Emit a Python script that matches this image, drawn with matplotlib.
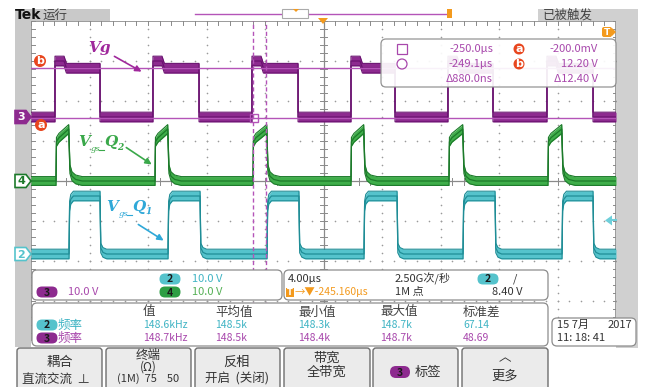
import numpy as np
import matplotlib
matplotlib.use("Agg")
import matplotlib.pyplot as plt
from matplotlib.patches import FancyBboxPatch, Polygon, Rectangle, Circle, FancyArrowPatch

plt.rcParams['font.family'] = ['Noto Sans CJK SC', 'DejaVu Sans']

W, H = 654, 387

# ---- acquisition settings ----
time_per_div = 4.0      # µs/div
volts_per_div = 10.0    # V/div, all channels
t_left, t_right = -20.0, 20.0

# ---- channel 3 : Vg ----
ch3_rise = [-18.36, -11.66, -4.89, 1.88, 8.51, 15.28]
ch3_fall = [-15.28, -8.51, -1.74, 4.89, 11.59, 18.43]
ch3_low = 0.0
ch3_high = 12.2
ch3_overshoot = 14.0
ch3_offset = 1.6        # div

# ---- channel 4 : Vgs_Q2 ----
ch4_rise = [-18.29, -11.52, -4.82, 1.88, 8.58, 15.35]
ch4_fall = [-17.40, -10.63, -3.86, 2.77, 9.54, 16.31]
ch4_low = 0.0
ch4_on = 9.8
ch4_peak = 13.0
ch4_offset = 0.0

# ---- channel 2 : Vgs_Q1 ----
ch2_rise = [-17.40, -10.63, -3.86, 2.77, 9.54, 16.31]
ch2_fall = [-15.28, -8.44, -1.68, 5.03, 11.73, 18.43]
ch2_low = 0.0
ch2_high = 14.5
ch2_offset = -1.825

# ---- cursors / trigger ----
cursor_t = [-4.82, -3.94]
cursor_v = [-0.2, 12.2]
trigger_level = 8.4

# ---- readouts ----
readout_rows = [("-250.0µs", "a", "-200.0mV"),
                ("-249.1µs", "b", "12.20 V"),
                ("Δ880.0ns", None, "Δ12.40 V")]
meas_headers = ["值", "平均值", "最小值", "最大值", "标准差"]
meas_ch2 = ["148.6kHz", "148.5k", "148.3k", "148.7k", "67.14"]
meas_ch3 = ["148.7kHz", "148.5k", "148.4k", "148.7k", "48.69"]

PURPLE = '#8d2a8f'
PURPLE_D = '#6a1270'
PURPLE_T = '#a848ac'
GREEN = '#3fae4a'
GREEN_D = '#1c7a2a'
GREEN_T = '#55b055'
CYAN = '#55c3cc'
CYAN_D = '#1f8d96'
CYAN_T = '#40b4c4'
ORANGE = '#f39a1e'
RED = '#e8461e'
GREY = '#c9c9c9'


def vg_wave(rise, fall, low, high, peak):
    t, v = [t_left], [low]
    for r, f in zip(rise, fall):
        t += [r, r, r + 0.62, r + 0.78, f, f]
        v += [low, peak, peak, high, high, low]
    t.append(t_right); v.append(low)
    return np.array(t), np.array(v)


def q2_wave(rise, fall, low, on, peak):
    t, v = [t_left], [low]
    for r, f in zip(rise, fall):
        t += [r, r + 0.03, r + 0.2, f - 0.02, f + 0.06, f + 0.2, f + 0.45, f + 0.9]
        v += [low, on, on + 1.0, peak, 3.0, 1.2, 0.4, low]
    t.append(t_right); v.append(low)
    return np.array(t), np.array(v)


def q1_wave(rise, fall, low, high):
    t, v = [t_left], [low]
    for r, f in zip(rise, fall):
        t += [r, r + 0.04, r + 0.12, r + 0.3, f, f + 0.05, f + 0.2, f + 0.45]
        v += [low, high - 2.5, high - 0.8, high, high, 1.5, 0.4, low]
    t.append(t_right); v.append(low)
    return np.array(t), np.array(v)


fig = plt.figure(figsize=(W / 100, H / 100), dpi=100)
fig.patch.set_facecolor('white')

# ---------- background frame (pixel coordinates) ----------
bg = fig.add_axes([0, 0, 1, 1], zorder=0)
bg.set_xlim(0, W); bg.set_ylim(H, 0); bg.axis('off')
bg.add_patch(Rectangle((15, 9), 95, 12, fc=GREY, ec='none'))
bg.add_patch(Rectangle((15, 9), 16, 338, fc=GREY, ec='none'))
bg.add_patch(Rectangle((538, 9), 100, 12, fc='#d0d0d0', ec='none'))
bg.add_patch(Rectangle((616, 9), 22, 339, fc='#d0d0d0', ec='none'))

# ---------- scope graticule ----------
gl, gt, gr, gb = 31, 21, 616, 341
ax = fig.add_axes([gl / W, 1 - gb / H, (gr - gl) / W, (gb - gt) / H], zorder=1)
ax.set_xlim(t_left, t_right); ax.set_ylim(-4, 4)
ax.axis('off')
ax.patch.set_alpha(0)

dot_c = '#9a9a9a'
ys = np.arange(-4, 4.001, 0.2)
xs = np.arange(t_left, t_right + 0.001, time_per_div / 5)
for k in range(1, 10):
    x = t_left + time_per_div * k
    if k != 5:
        ax.scatter(np.full_like(ys, x), ys, s=1.4, color=dot_c, lw=0, zorder=1)
for j in range(-3, 4):
    if j != 0:
        ax.scatter(xs, np.full_like(xs, j), s=1.4, color=dot_c, lw=0, zorder=1)

axis_c = '#8a8a8a'
ax.axvline(0, color=axis_c, lw=0.9, zorder=1)
ax.axhline(0, color=axis_c, lw=0.9, zorder=1)
ax.plot([t_left, t_left], [-4, 4], color=axis_c, lw=1.2, zorder=1)
ax.plot([t_right, t_right], [-4, 4], color=axis_c, lw=1.2, zorder=1)
ax.plot([t_left, t_right], [4, 4], color=axis_c, lw=1.2, zorder=1)
tick_dx = 4 / 58.5 * 3.5
tick_dy = 3.5 / 40
for y in ys:
    ax.plot([-tick_dx, tick_dx], [y, y], color=axis_c, lw=0.7, zorder=1)
    ax.plot([t_left, t_left + tick_dx], [y, y], color=axis_c, lw=0.7, zorder=1)
    ax.plot([t_right - tick_dx, t_right], [y, y], color=axis_c, lw=0.7, zorder=1)
for x in xs:
    ax.plot([x, x], [-tick_dy, tick_dy], color=axis_c, lw=0.7, zorder=1)
    ax.plot([x, x], [4 - tick_dy, 4], color=axis_c, lw=0.7, zorder=1)


def draw_trace(t, v, offset, half, fill, edge, z):
    y = offset + v / volts_per_div
    ax.fill_between(t, y - half, y + half, color=fill, lw=0, zorder=z)
    ax.plot(t, y + half, color=edge, lw=0.8, zorder=z)
    ax.plot(t, y - half, color=edge, lw=0.8, zorder=z)
    ax.plot(t, y, color=edge, lw=0.9, zorder=z)


t3, v3 = vg_wave(ch3_rise, ch3_fall, ch3_low, ch3_high, ch3_overshoot)
t4, v4 = q2_wave(ch4_rise, ch4_fall, ch4_low, ch4_on, ch4_peak)
t2, v2 = q1_wave(ch2_rise, ch2_fall, ch2_low, ch2_high)
draw_trace(t2, v2, ch2_offset, 0.12, CYAN, CYAN_D, 3)
draw_trace(t4, v4, ch4_offset, 0.11, GREEN, GREEN_D, 3)
draw_trace(t3, v3, ch3_offset, 0.12, PURPLE, PURPLE_D, 3)

# cursors
cur_c = '#b454b8'
for tc in cursor_t:
    ax.axvline(tc, color=cur_c, lw=1.0, ls=(0, (3, 2)), zorder=4)
for vc in cursor_v:
    ax.axhline(ch3_offset + vc / volts_per_div, color=cur_c, lw=1.0, zorder=4)
ax.plot([cursor_t[0] + 0.1], [ch3_offset + cursor_v[0] / volts_per_div], marker='s',
        ms=6, mfc='none', mec=cur_c, mew=1.0, zorder=5)

# ---------- foreground (pixel coordinates) ----------
fg = fig.add_axes([0, 0, 1, 1], zorder=3)
fg.set_xlim(0, W); fg.set_ylim(H, 0); fg.axis('off')
fg.patch.set_alpha(0)


def rbox(x0, y0, x1, y1, r=5, fc='white', ec='#8c8c8c', lw=0.9, alpha=1.0, z=2):
    fg.add_patch(FancyBboxPatch((x0, y0), x1 - x0, y1 - y0,
                                boxstyle=f"round,pad=0,rounding_size={r}",
                                fc=fc, ec=ec, lw=lw, alpha=alpha, zorder=z))


def pill(cx, cy, label, fc, w=21, h=11, tc='#1a1a1a'):
    fg.add_patch(FancyBboxPatch((cx - w / 2, cy - h / 2), w, h,
                                boxstyle=f"round,pad=0,rounding_size={h / 2}",
                                fc=fc, ec='none', zorder=4))
    fg.text(cx, cy + 0.5, label, ha='center', va='center', fontsize=7.5,
            fontweight='bold', color=tc, zorder=5)


def badge(cx, cy, label, r=6):
    fg.add_patch(Circle((cx, cy), r, fc=RED, ec='none', zorder=4))
    fg.text(cx, cy + 0.3, label, ha='center', va='center', fontsize=8,
            color='white', fontweight='bold', zorder=5, family='DejaVu Sans')


def txt(x, y, s, c='#333333', size=8, ha='left', **kw):
    fg.text(x, y, s, ha=ha, va='center', fontsize=size, color=c, zorder=5, **kw)


# header texts
fg.text(15, 15, "Tek", fontsize=10, fontweight='bold', color='#111111',
        va='center', ha='left', family='DejaVu Sans')
txt(43, 15, "运行", c='#444444', size=9)
txt(543, 15, "已被触发", c='#444444', size=9)

# record bar
fg.plot([195, 450], [13.5, 13.5], color=cur_c, lw=1.0, zorder=3)
fg.add_patch(Rectangle((282, 9), 26, 9, fc='white', ec='#aaaaaa', lw=0.8, zorder=3))
fg.add_patch(Polygon([[293, 9], [299, 9], [296, 12]], fc=ORANGE, ec='none', zorder=4))
fg.add_patch(Rectangle((447, 9), 5, 9, fc=ORANGE, ec='none', zorder=4))

# trigger markers
fg.add_patch(Polygon([[318, 18], [328, 18], [323, 24]], fc=ORANGE, ec='none', zorder=4))
fg.add_patch(FancyBboxPatch((602, 27), 10, 10, boxstyle="round,pad=0,rounding_size=2",
                            fc=ORANGE, ec='none', zorder=4))
fg.add_patch(Polygon([[612, 28], [616, 32], [612, 36]], fc=ORANGE, ec='none', zorder=4))
fg.text(607, 32.5, "T", ha='center', va='center', fontsize=6.5, color='white',
        fontweight='bold', zorder=5, family='DejaVu Sans')
ty = 181 - (ch2_offset + trigger_level / volts_per_div) * 40
fg.add_patch(Polygon([[605, ty], [612, ty - 5], [612, ty + 5]], fc='#6fcfda', ec='none', zorder=4))
fg.plot([611, 616], [ty, ty], color='#6fcfda', lw=1.5, zorder=4)


# channel ground markers
def marker(y, label, fc, ec, tc):
    fg.add_patch(Polygon([[15, y - 6.5], [26, y - 6.5], [31, y], [26, y + 6.5], [15, y + 6.5]],
                         closed=True, fc=fc, ec=ec, lw=1.2, zorder=4))
    fg.text(21, y + 0.5, label, ha='center', va='center', fontsize=8, color=tc,
            fontweight='bold', zorder=5, family='DejaVu Sans')


marker(181 - ch3_offset * 40, "3", PURPLE, PURPLE, 'white')
marker(181 - ch4_offset * 40, "4", 'white', GREEN_D, GREEN_D)
marker(181 - ch2_offset * 40, "2", 'white', CYAN, CYAN)
badge(40, 61, "b")
badge(41, 125, "a")

# trace annotations
serif = 'DejaVu Serif'
fg.text(88, 48, "Vg", fontsize=11, fontstyle='italic', fontweight='bold', color='#a0289c',
        family=serif, ha='left', va='center', zorder=5)
fg.add_patch(FancyArrowPatch((112, 55), (144, 73), arrowstyle='-|>', mutation_scale=9,
                             color='#a0289c', lw=1.2, zorder=5))


def vgs_label(x, y, sub, col):
    fg.text(x, y, "V", fontsize=11, fontstyle='italic', fontweight='bold', color=col,
            family=serif, ha='left', va='center', zorder=5)
    fg.text(x + 13, y + 7, "gs", fontsize=6, fontstyle='italic', color=col,
            family=serif, ha='left', va='center', zorder=5)
    fg.plot([x + 21, x + 26], [y + 8, y + 8], color=col, lw=0.8, zorder=5)
    fg.text(x + 26, y, "Q", fontsize=11, fontstyle='italic', fontweight='bold', color=col,
            family=serif, ha='left', va='center', zorder=5)
    fg.text(x + 39, y + 5, sub, fontsize=6.5, fontstyle='italic', fontweight='bold', color=col,
            family=serif, ha='left', va='center', zorder=5)


vgs_label(78, 142, "2", '#3aa84a')
fg.add_patch(FancyArrowPatch((124, 146), (154, 166), arrowstyle='-|>', mutation_scale=9,
                             color='#3aa84a', lw=1.2, zorder=5))
vgs_label(106, 207, "1", '#2fa8d8')
fg.add_patch(FancyArrowPatch((136, 223), (166, 242), arrowstyle='-|>', mutation_scale=9,
                             color='#2fa8d8', lw=1.2, zorder=5))

# cursor readout box
rbox(381, 39, 616, 87, r=5, fc='white', ec='#8c8c8c', alpha=0.92, z=3)
for i, (tv, tag, vv) in enumerate(readout_rows):
    y = 49 + 15 * i
    txt(493, y, tv, c=PURPLE_T, size=8, ha='right')
    txt(598, y, vv, c=PURPLE_T, size=8, ha='right')
    if tag:
        badge(519, y, tag, r=5.5)
fg.add_patch(Rectangle((397, 44), 10, 10, fc='none', ec=PURPLE_T, lw=0.9, zorder=5))
fg.add_patch(Circle((402, 64), 5, fc='none', ec=PURPLE_T, lw=0.9, zorder=5))

# lower info panels
rbox(32, 270, 282, 300, r=5)
pill(170, 279, "2", CYAN)
txt(192, 279, "10.0 V", c=CYAN_T, size=8)
pill(47, 292, "3", PURPLE)
txt(68, 292, "10.0 V", c=PURPLE_T, size=8)
pill(170, 292, "4", '#2e9e44')
txt(192, 292, "10.0 V", c=GREEN_T, size=8)

rbox(284, 270, 548, 300, r=5)
txt(288, 279, "4.00µs", size=8)
txt(395, 279, "2.50G次/秒", size=8)
pill(488, 279, "2", CYAN)
txt(513, 279, "/", size=8)
fg.add_patch(Rectangle((286, 287.5), 8, 9, fc=ORANGE, ec='none', zorder=4))
fg.text(290, 292.3, "T", ha='center', va='center', fontsize=6, color='white',
        fontweight='bold', zorder=5, family='DejaVu Sans')
txt(295, 292, "→▼-245.160µs", c=ORANGE, size=7.5)
txt(395, 292, "1M 点", size=8)
txt(523, 292, "8.40 V", size=8, ha='right')

rbox(32, 303, 548, 346, r=5)
cols = [143, 215, 298, 380, 463]
for x, hd in zip(cols, meas_headers):
    txt(x, 312, hd, c='#444444', size=9)
pill(47, 325, "2", CYAN)
txt(58, 325, "频率", c=CYAN_T, size=9)
pill(47, 338, "3", PURPLE)
txt(58, 338, "频率", c=PURPLE_T, size=9)
for x, a, b in zip(cols, meas_ch2, meas_ch3):
    txt(x, 325, a, c=CYAN_T, size=7.5)
    txt(x, 338, b, c=PURPLE_T, size=7.5)

rbox(552, 318, 636, 346, r=5)
txt(557, 325, "15 7月", size=8)
txt(632, 325, "2017", size=8, ha='right')
txt(557, 338, "11: 18: 41", size=8)

# soft-key buttons
btns = [(17, 102), (106, 191), (195, 280), (284, 370), (373, 458), (462, 548)]
for x0, x1 in btns:
    rbox(x0, 348, x1, 395, r=3, fc='#ebebeb', ec='#6e6e6e', lw=1.0)
txt(60, 362, "耦合", size=9.5, ha='center')
txt(56, 379, "直流交流  ⊥", size=9, ha='center')
txt(148, 355, "终端", size=9, ha='center')
txt(148, 367, "(Ω)", size=8.5, ha='center')
txt(148, 379, "(1M)  75    50", size=8, ha='center')
txt(237, 362, "反相", size=9.5, ha='center')
txt(237, 379, "开启  (关闭)", size=9, ha='center')
txt(327, 358, "带宽", size=9.5, ha='center')
txt(327, 372, "全带宽", size=9.5, ha='center')
pill(400, 372, "3", PURPLE, w=20, h=12)
txt(415, 372, "标签", size=9.5)
txt(505, 358, "︿", size=9, ha='center')
txt(505, 376, "更多", size=9.5, ha='center')

fig.savefig("out.png", dpi=100, facecolor='white')
